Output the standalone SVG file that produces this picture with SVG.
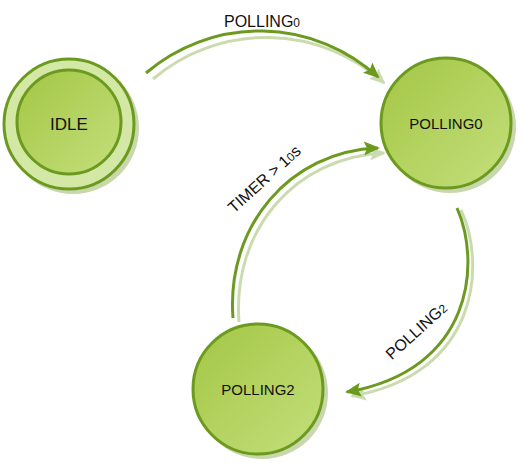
<svg xmlns="http://www.w3.org/2000/svg" width="524" height="463" viewBox="0 0 524 463">
<style>
.node{stroke:#6b9a1f;stroke-width:3}
.nshadow{fill:#c9d7ad}
.lbl{font-family:"Liberation Sans",Arial,sans-serif;fill:#111;text-anchor:middle}
.edge{fill:none;stroke:#6b9a1f;stroke-width:3;marker-end:url(#arr)}
.eshadow{fill:none;stroke:#cbdbb0;stroke-width:3;marker-end:url(#arrs)}
.elbl{font-family:"Liberation Sans",Arial,sans-serif;font-size:16px;fill:#111;text-anchor:middle}
</style>
<defs>
<linearGradient id="g" x1="0" y1="0" x2="1" y2="1">
<stop offset="0" stop-color="#a3c644"/>
<stop offset="1" stop-color="#c4df7c"/>
</linearGradient>
<marker id="arr" markerUnits="userSpaceOnUse" markerWidth="16" markerHeight="14" refX="14" refY="7" orient="auto">
<path d="M0,0 L16,7 L0,14 L3,7 Z" fill="#6b9a1f"/>
</marker>
<marker id="arrs" markerUnits="userSpaceOnUse" markerWidth="16" markerHeight="14" refX="14" refY="7" orient="auto">
<path d="M0,0 L16,7 L0,14 L3,7 Z" fill="#cbdbb0"/>
</marker>
</defs>
<rect width="524" height="463" fill="#fff"/>
<g id="connectors">
<path class="eshadow" d="M153,79 A175,175 0 0 1 384,83"/>
<path class="edge" d="M146,73 A175,175 0 0 1 378,77"/>
<path class="eshadow" d="M239,322 C232,230 295,157 384,153"/>
<path class="edge" d="M233,318 C226,226 290,151 378,148"/>
<path class="eshadow" d="M461,210 C486,263 480,374 352,396"/>
<path class="edge" d="M457,208 C481,262 474,370 347,392"/>
<text class="elbl" x="262" y="27">POLLING<tspan font-size="12">0</tspan></text>
<text class="elbl" transform="translate(268,183) rotate(-42)">TIMER &gt; 1<tspan font-size="12">0</tspan>s</text>
<text class="elbl" transform="translate(420,335) rotate(-42)">POLLING<tspan font-size="12">2</tspan></text>
</g>
<g id="IDLE">
<circle class="nshadow" cx="73" cy="128" r="66"/>
<circle cx="69" cy="124" r="65" fill="#d3e8a4" class="node"/>
<circle cx="69" cy="122" r="52" fill="url(#g)" class="node"/>
<text class="lbl" x="69" y="130" font-size="17">IDLE</text>
</g>
<g id="POLLING0">
<circle class="nshadow" cx="450" cy="127" r="66"/>
<circle cx="446" cy="123" r="65" fill="url(#g)" class="node"/>
<text class="lbl" x="446" y="129" font-size="15">POLLING0</text>
</g>
<g id="POLLING2">
<circle class="nshadow" cx="262" cy="393" r="66"/>
<circle cx="258" cy="389" r="65" fill="url(#g)" class="node"/>
<text class="lbl" x="258" y="395" font-size="15">POLLING2</text>
</g>
</svg>
